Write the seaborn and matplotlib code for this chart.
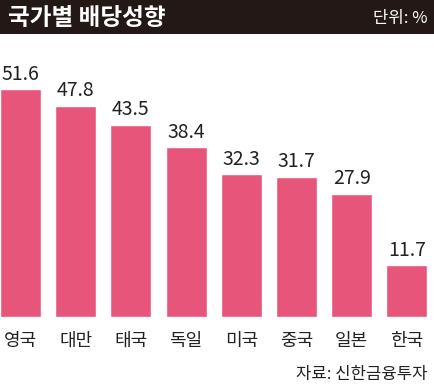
import matplotlib
matplotlib.use('Agg')
import matplotlib.pyplot as plt
import pandas as pd
import seaborn as sns

countries = ['영국', '대만', '태국', '독일', '미국', '중국', '일본', '한국']
payout = [51.6, 47.8, 43.5, 38.4, 32.3, 31.7, 27.9, 11.7]

bar_color = '#E8557A'
header_color = '#231815'

sns.set_theme(style='white')
plt.rcParams['font.family'] = ['Noto Sans CJK KR', 'DejaVu Sans']

df = pd.DataFrame({'country': countries, 'payout': payout})

fig = plt.figure(figsize=(4.34, 3.90), dpi=100)

# dark title band
band = fig.add_axes([0, 1 - 34 / 390, 1, 34 / 390])
band.set_facecolor(header_color)
band.set_xticks([])
band.set_yticks([])
for s in band.spines.values():
    s.set_visible(False)
band.text(0.018, 0.47, '국가별 배당성향', color='white', fontsize=17,
          fontweight='bold', ha='left', va='center', transform=band.transAxes)
band.text(0.985, 0.47, '단위: %', color='white', fontsize=12,
          ha='right', va='center', transform=band.transAxes)

ax = fig.add_axes([0, (390 - 317) / 390, 428 / 434, (317 - 35) / 390])
sns.barplot(data=df, x='country', y='payout', color=bar_color,
            saturation=1, width=0.743, ax=ax)
ax.set_xlim(-0.371, 7.382)
ax.set_ylim(0, 63.8)

for i, v in enumerate(payout):
    ax.text(i, v + 1.0, f'{v}', ha='center', va='bottom', fontsize=14,
            color='#222222')

ax.set_xlabel('')
ax.set_ylabel('')
ax.set_yticks([])
ax.tick_params(axis='x', length=0, labelsize=13, pad=11, colors='#222222')
for s in ax.spines.values():
    s.set_visible(False)
ax.set_facecolor('white')

fig.text(428 / 434, 1 - 375 / 390, '자료: 신한금융투자', ha='right', va='center',
         fontsize=12, color='#222222')

fig.savefig('out.png', dpi=100)
